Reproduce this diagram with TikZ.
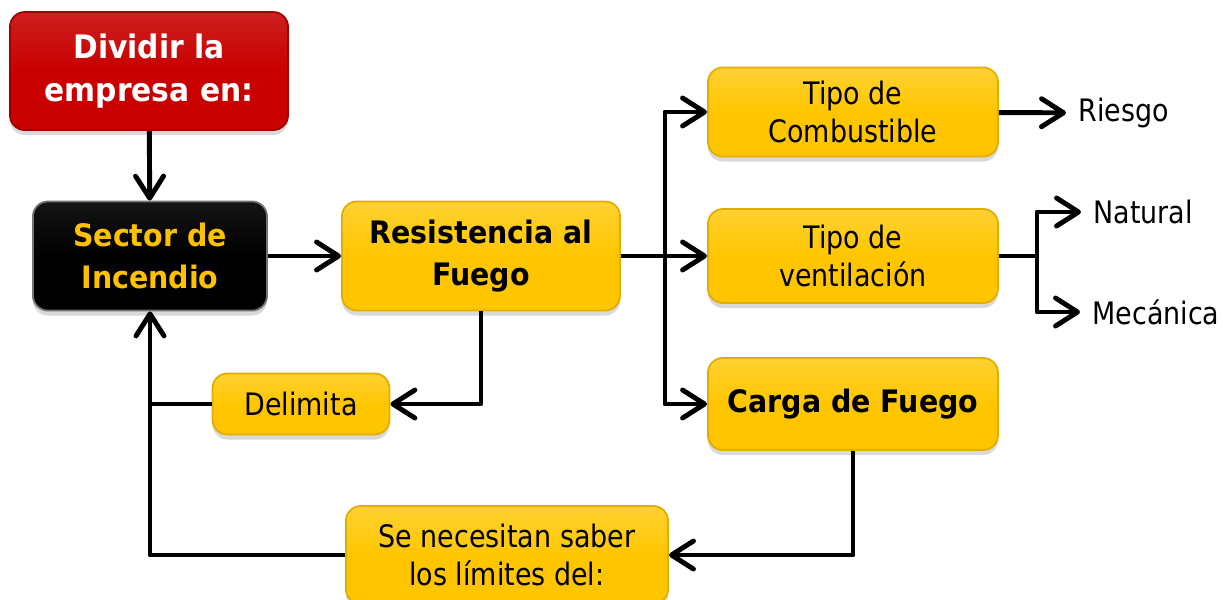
\documentclass[tikz,border=0pt]{standalone}
\usepackage{fontspec}
\setmainfont{DejaVu Sans}[FakeStretch=0.87,BoldFeatures={FakeStretch=0.92}]
\usetikzlibrary{positioning,arrows.meta,shadows}
\definecolor{amarillo}{HTML}{FFC600}
\definecolor{borde}{HTML}{E3AC00}
\definecolor{rojo}{HTML}{C80000}
\definecolor{dorado}{HTML}{FFC000}
\tikzset{caja/.style = {rounded corners=0.15cm, inner sep=0pt, align=center, draw=borde, line width=0.5pt,
                        top color=amarillo!80!white, bottom color=amarillo, middle color=amarillo,
                        drop shadow={shadow xshift=0pt, shadow yshift=-0.05cm, opacity=0.3}},
         flecha/.style = {line width=1.4pt, line join=round, -{Straight Barb[length=0.22cm,width=0.28cm,line cap=round,line join=round]}},
         linea/.style = {line width=1.4pt, line join=round},
         normal/.style = {font=\fontsize{8.8}{10.8}\selectfont},
         negrita/.style = {font=\bfseries\fontsize{8.8}{12}\selectfont}}

\begin{document}
\begin{tikzpicture}[x=0.01cm, y=-0.01cm]
    \useasboundingbox (0,0) rectangle (1223,599);

    \node[caja, negrita, top color=rojo!88!white, bottom color=rojo, middle color=rojo, draw=rojo!80!black,
          text=white, font=\bfseries\fontsize{9.2}{12}\selectfont,
          minimum width=2.78cm, minimum height=1.18cm] (dividir) at (149,71) {Dividir la\\empresa en:};
    \node[caja, negrita, top color=black!92, bottom color=black, middle color=black, draw=black!55,
          text=dorado, minimum width=2.34cm, minimum height=1.09cm] (sector) at (150,256) {Sector de\\Incendio};
    \node[caja, negrita, minimum width=2.78cm, minimum height=1.09cm] (resist) at (481,256) {Resistencia al\\Fuego};

    \node[caja, normal, minimum width=2.90cm, minimum height=0.89cm] (combust) at (853,112) {Tipo de\\Combustible};
    \node[caja, normal, minimum width=2.90cm, minimum height=0.94cm] (ventil) at (853,256) {Tipo de\\ventilación};
    \node[caja, negrita, minimum width=2.90cm, minimum height=0.92cm] (carga) at (853,404) {Carga de Fuego};

    \node[caja, normal, minimum width=1.77cm, minimum height=0.61cm] (delimita) at (301,404) {Delimita};
    \node[caja, normal, minimum width=3.22cm, minimum height=0.98cm] (saber) at (507,555) {Se necesitan saber\\los límites del:};

    \node[normal, anchor=west] (riesgo) at (1066,113) {Riesgo};
    \node[normal, anchor=west] (natural) at (1081,212) {Natural};
    \node[normal, anchor=west] (mecanica) at (1080,312) {Mecánica};

    \coordinate (split) at (665,256);
    \coordinate (vsplit) at (1037,256);
    \coordinate (union) at (150,404);

    \draw[flecha] (dividir) -- (sector);
    \draw[flecha] (sector) -- (resist);
    \draw[linea] (resist) -- (split);
    \draw[flecha] (split) |- (combust.west);
    \draw[flecha] (split) -- (ventil);
    \draw[flecha] (split) |- (carga.west);
    \draw[flecha] (combust) -- (riesgo);
    \draw[linea] (ventil) -- (vsplit);
    \draw[flecha] (vsplit) |- (natural.west);
    \draw[flecha] (vsplit) |- (mecanica.west);
    \draw[flecha] (resist.south) |- (delimita.east);
    \draw[flecha] (delimita.west) -| (sector.south);
    \draw[flecha] (carga.south) |- (saber.east);
    \draw[linea] (saber.west) -| (union);
\end{tikzpicture}
\end{document}
